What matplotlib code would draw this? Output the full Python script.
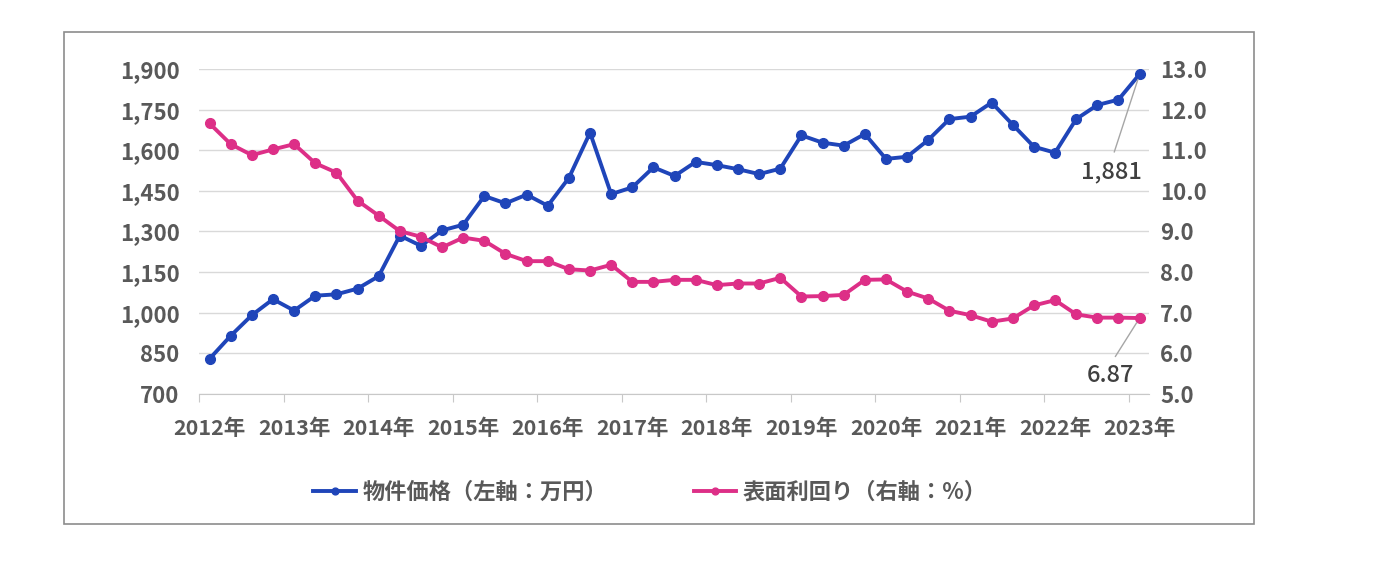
import matplotlib
matplotlib.use("Agg")
import matplotlib.pyplot as plt
from matplotlib.patches import Rectangle
from matplotlib.ticker import FuncFormatter, FixedLocator, NullFormatter

plt.rcParams['font.family'] = ['Noto Sans CJK JP', 'DejaVu Sans']

# 四半期 (2012Q1 - 2023Q1)
years = [2012 + i // 4 for i in range(45)]
quarters = [i % 4 + 1 for i in range(45)]

price = [830, 915, 991, 1050, 1008, 1063, 1068, 1089, 1135, 1285, 1247, 1304,
         1325, 1431, 1404, 1436, 1395, 1498, 1665, 1438, 1463, 1537, 1505, 1557,
         1545, 1530, 1512, 1532, 1655, 1628, 1617, 1660, 1568, 1576, 1638, 1715,
         1724, 1776, 1694, 1613, 1591, 1715, 1767, 1787, 1881]
yield_ = [11.66, 11.15, 10.88, 11.02, 11.15, 10.68, 10.45, 9.76, 9.39, 9.01, 8.87, 8.61,
          8.85, 8.77, 8.45, 8.27, 8.27, 8.07, 8.04, 8.18, 7.76, 7.76, 7.81, 7.81,
          7.68, 7.72, 7.72, 7.86, 7.40, 7.41, 7.44, 7.81, 7.82, 7.52, 7.35, 7.05,
          6.94, 6.78, 6.86, 7.18, 7.31, 6.96, 6.88, 6.88, 6.87]

year_labels = [f"{y}年" for y in range(2012, 2024)]

blue = '#1f45b9'
pink = '#dd2f87'
txt = '#595959'

x = [y + (q - 1) * 0.25 + 0.125 for y, q in zip(years, quarters)]

fig = plt.figure(figsize=(13.94, 5.62), dpi=100)
ax = fig.add_axes([199 / 1394, 1 - 394 / 562, 950 / 1394, 325 / 562])
ax2 = ax.twinx()

l1, = ax.plot(x, price, color=blue, lw=2.8, marker='o', ms=7, label='物件価格（左軸：万円）', zorder=3)
l2, = ax2.plot(x, yield_, color=pink, lw=2.8, marker='o', ms=7, label='表面利回り（右軸：%）', zorder=3)

ax.set_xlim(2012, 2023.236)
ax.set_ylim(700, 1900)
ax2.set_ylim(5.0, 13.0)
ax.set_yticks(range(700, 1901, 150))
ax2.set_yticks([5 + i for i in range(9)])
ax.yaxis.set_major_formatter(FuncFormatter(lambda v, p: f"{int(v):,}"))
ax2.yaxis.set_major_formatter(FuncFormatter(lambda v, p: f"{v:.1f}"))

ax.xaxis.set_major_locator(FixedLocator(range(2012, 2024)))
ax.xaxis.set_major_formatter(NullFormatter())
ax.xaxis.set_minor_locator(FixedLocator([x[i] for i in range(0, 45, 4)]))
ax.set_xticklabels(year_labels, minor=True)

ax.grid(axis='y', color='#d9d9d9', lw=1)
ax.set_axisbelow(True)
for a in (ax, ax2):
    for s in ('top', 'right', 'left'):
        a.spines[s].set_visible(False)
    a.spines['bottom'].set_color('#c8c8c8')
ax2.spines['bottom'].set_visible(False)

ax.tick_params(axis='x', which='major', length=6, color='#c8c8c8')
ax.tick_params(axis='x', which='minor', length=0, pad=17, labelsize=15.5, labelcolor=txt)
ax.tick_params(axis='y', length=0, pad=14, labelsize=16, labelcolor=txt)
ax2.tick_params(axis='y', length=0, pad=8, labelsize=16, labelcolor=txt)
for lab in ax.get_xticklabels(minor=True) + ax.get_yticklabels() + ax2.get_yticklabels():
    lab.set_fontweight('bold')

ax.annotate(f"{price[-1]:,}", xy=(x[-1], price[-1]), xytext=(-28, -86),
            textcoords='offset pixels', ha='center', va='top', fontsize=17, color='#404040',
            fontweight='medium',
            arrowprops=dict(arrowstyle='-', color='#a6a6a6', lw=1, relpos=(0.5, 1), shrinkA=4, shrinkB=4))
ax2.annotate(f"{yield_[-1]:.2f}", xy=(x[-1], yield_[-1]), xytext=(-29, -46),
             textcoords='offset pixels', ha='center', va='top', fontsize=17, color='#404040',
             fontweight='medium',
             arrowprops=dict(arrowstyle='-', color='#a6a6a6', lw=1, relpos=(0.5, 1), shrinkA=4, shrinkB=4))

leg = fig.legend(handles=[l1, l2], loc='center', bbox_to_anchor=(650 / 1394, 1 - 492 / 562),
                 ncol=2, frameon=False, handlelength=1.9, handletextpad=0.3, columnspacing=3.9,
                 prop={'size': 16, 'weight': 'bold'}, markerscale=0.7)
for t in leg.get_texts():
    t.set_color(txt)

fig.patches.append(Rectangle((64 / 1394, 1 - 524 / 562), 1190 / 1394, 492 / 562,
                             transform=fig.transFigure, fill=False, edgecolor='#8c8c8c', lw=1.2))

fig.savefig('out.png', dpi=100)
